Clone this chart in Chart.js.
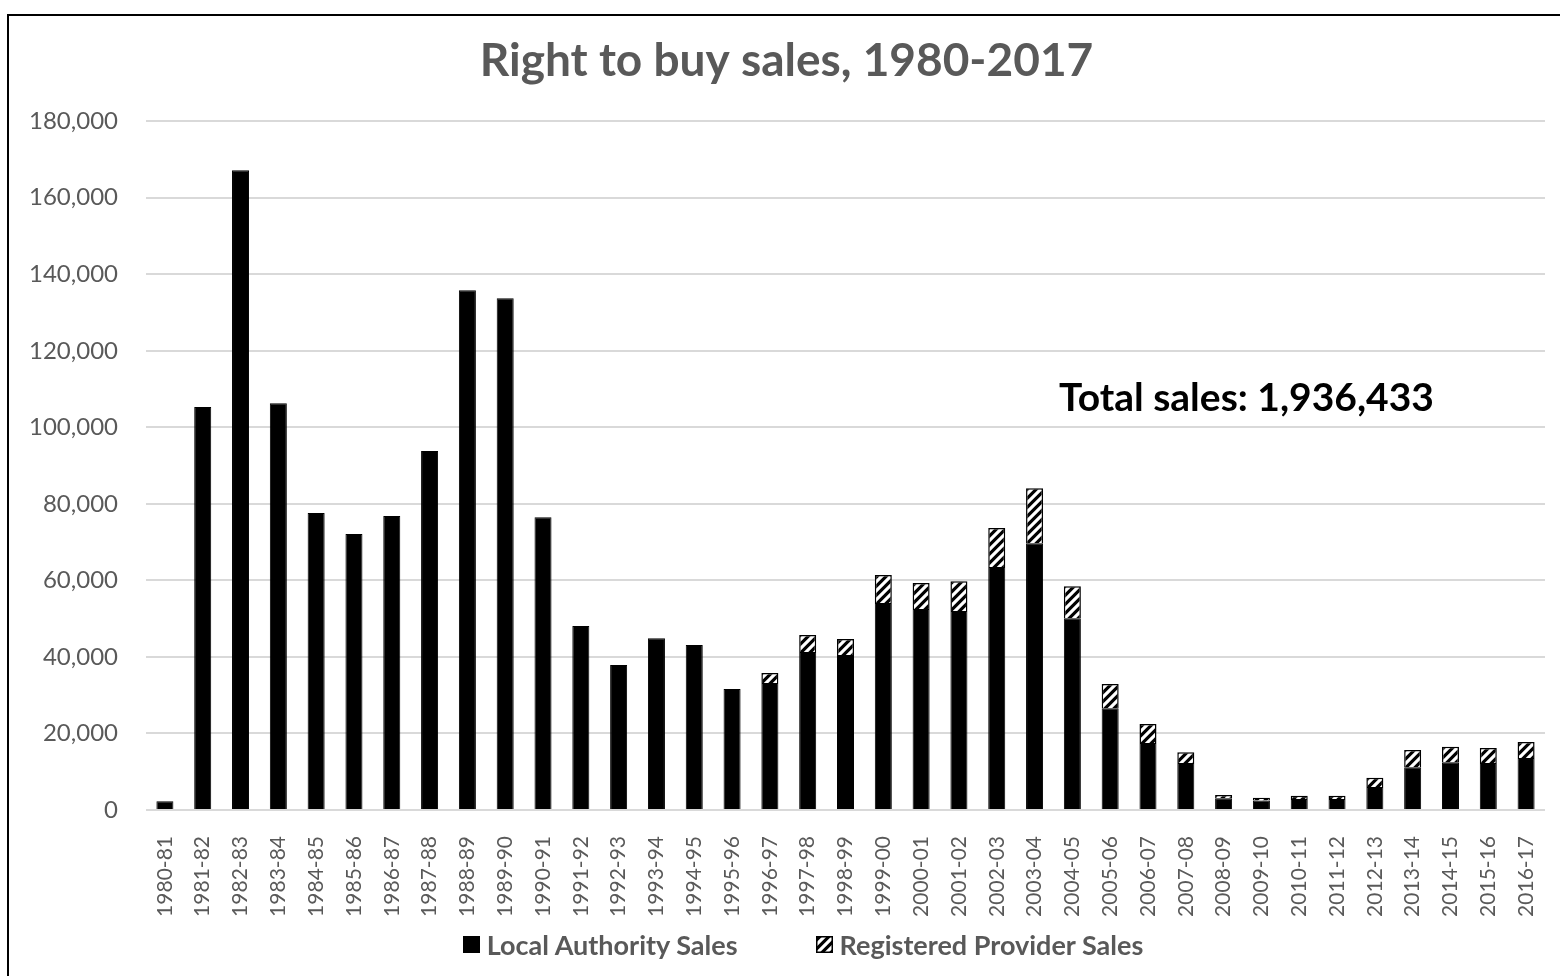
<!DOCTYPE html>
<html>
<head>
<meta charset="utf-8">
<title>Right to buy sales, 1980-2017</title>
<script src="https://cdn.jsdelivr.net/npm/chart.js@4.4.1/dist/chart.umd.min.js"></script>
<style>
    body { margin: 0; background: #fff; }
    #wrap { position: relative; width: 1560px; height: 976px; overflow: hidden; }
    #frame {
        position: absolute; left: 7px; top: 14px; width: 1700px; height: 1100px;
        border-left: 2px solid #000; border-top: 2px solid #000;
    }
    #grafico { position: absolute; left: 0; top: 0; }
    #total {
        position: absolute; left: 1059px; top: 373px;
        font: bold 39px Lato, sans-serif; color: #000; white-space: nowrap;
    }
    #legenda {
        position: absolute; left: 23px; top: 928px; width: 1560px;
        display: flex; justify-content: center; align-items: center;
        font: bold 27px Lato, sans-serif; color: #595959;
    }
    #legenda .item { display: flex; align-items: center; }
    #legenda .item + .item { margin-left: 78px; }
    #legenda canvas { margin-right: 7px; }
</style>
</head>
<body>
<div id="wrap">
    <div id="frame"></div>
    <canvas id="grafico" width="1560" height="976"></canvas>
    <div id="total"></div>
    <div id="legenda"></div>
</div>
<script>
const categorias = [
    "1980-81", "1981-82", "1982-83", "1983-84", "1984-85", "1985-86", "1986-87", "1987-88",
    "1988-89", "1989-90", "1990-91", "1991-92", "1992-93", "1993-94", "1994-95", "1995-96",
    "1996-97", "1997-98", "1998-99", "1999-00", "2000-01", "2001-02", "2002-03", "2003-04",
    "2004-05", "2005-06", "2006-07", "2007-08", "2008-09", "2009-10", "2010-11", "2011-12",
    "2012-13", "2013-14", "2014-15", "2015-16", "2016-17"
];

// vendas das autoridades locais (parte preta)
const localAuthority = [
    2300, 105300, 167200, 106300, 77600, 72100, 76800, 93800,
    135800, 133700, 76500, 48100, 37900, 44900, 43100, 31600,
    33200, 41300, 40500, 54100, 52500, 52000, 63500, 69700,
    50100, 26600, 17500, 12300, 3100, 2500, 2900, 2900,
    6000, 11200, 12500, 12300, 13600
];

// vendas dos registered providers (parte hachurada)
const registeredProvider = [
    null, null, null, null, null, null, null, null,
    null, null, null, null, null, null, null, null,
    2600, 4400, 4200, 7300, 6800, 7800, 10200, 14400,
    8400, 6300, 5000, 2800, 800, 700, 800, 800,
    2400, 4500, 4000, 3900, 4200
];

const nomesSeries = ["Local Authority Sales", "Registered Provider Sales"];
const titulo = "Right to buy sales, 1980-2017";
const textoTotal = "Total sales: 1,936,433";

const cinza = "#595959";
const fonte = "Lato, 'Open Sans', sans-serif";

// padrão de listras diagonais para os registered providers
function criarHachura(c) {
    const tile = document.createElement("canvas");
    tile.width = 9;
    tile.height = 9;
    const t = tile.getContext("2d");
    t.fillStyle = "#000";
    t.fillRect(0, 0, 9, 9);
    t.strokeStyle = "#fff";
    t.lineWidth = 3.2;
    t.beginPath();
    t.moveTo(0, 9); t.lineTo(9, 0);
    t.moveTo(-4.5, 4.5); t.lineTo(4.5, -4.5);
    t.moveTo(4.5, 13.5); t.lineTo(13.5, 4.5);
    t.stroke();
    return c.createPattern(tile, "repeat");
}

document.getElementById("total").textContent = textoTotal;

const ctx = document.getElementById("grafico").getContext("2d");

const grafico = new Chart(ctx, {
    type: "bar",
    data: {
        labels: categorias,
        datasets: [
            {
                label: nomesSeries[0],
                data: localAuthority,
                backgroundColor: "#000",
                borderColor: "#000",
                borderWidth: 1
            },
            {
                label: nomesSeries[1],
                data: registeredProvider,
                backgroundColor: criarHachura(ctx),
                borderColor: "#000",
                borderWidth: 1.5
            }
        ]
    },
    options: {
        responsive: false,
        animation: false,
        devicePixelRatio: 1,
        barPercentage: 0.45,
        categoryPercentage: 1,
        layout: { padding: { left: 28, right: 15, top: 0, bottom: 56 } },
        plugins: {
            title: {
                display: true,
                text: titulo,
                color: cinza,
                font: { family: fonte, size: 46, weight: "bold" },
                padding: { top: 34, bottom: 32 }
            },
            legend: { display: false },
            tooltip: { enabled: false }
        },
        scales: {
            x: {
                stacked: true,
                grid: { display: false },
                border: { display: false },
                ticks: {
                    color: cinza,
                    font: { family: fonte, size: 21 },
                    minRotation: 90,
                    maxRotation: 90,
                    autoSkip: false,
                    padding: 18
                },
                afterFit: scale => {
                    scale.height = 110;
                    // sem folga extra para os rótulos das pontas
                    scale.paddingLeft = 0;
                    scale.paddingRight = 0;
                }
            },
            y: {
                stacked: true,
                min: 0,
                max: 180000,
                border: { display: false },
                grid: { color: "#d9d9d9", lineWidth: 2, drawTicks: false },
                ticks: {
                    stepSize: 20000,
                    color: cinza,
                    font: { family: fonte, size: 24 },
                    padding: 28,
                    callback: v => v.toLocaleString("en-US")
                },
                afterFit: scale => { scale.width = 118; }
            }
        }
    }
});

// legenda em HTML, montada a partir dos datasets do gráfico
const legenda = document.getElementById("legenda");
grafico.data.datasets.forEach(ds => {
    const item = document.createElement("div");
    item.className = "item";
    const caixa = document.createElement("canvas");
    caixa.width = 17;
    caixa.height = 17;
    const c = caixa.getContext("2d");
    c.fillStyle = typeof ds.backgroundColor === "string" ? ds.backgroundColor : criarHachura(c);
    c.fillRect(0, 0, 17, 17);
    c.strokeStyle = ds.borderColor;
    c.lineWidth = 1.5;
    c.strokeRect(0.75, 0.75, 15.5, 15.5);
    const texto = document.createElement("span");
    texto.textContent = ds.label;
    item.appendChild(caixa);
    item.appendChild(texto);
    legenda.appendChild(item);
});
</script>
</body>
</html>
